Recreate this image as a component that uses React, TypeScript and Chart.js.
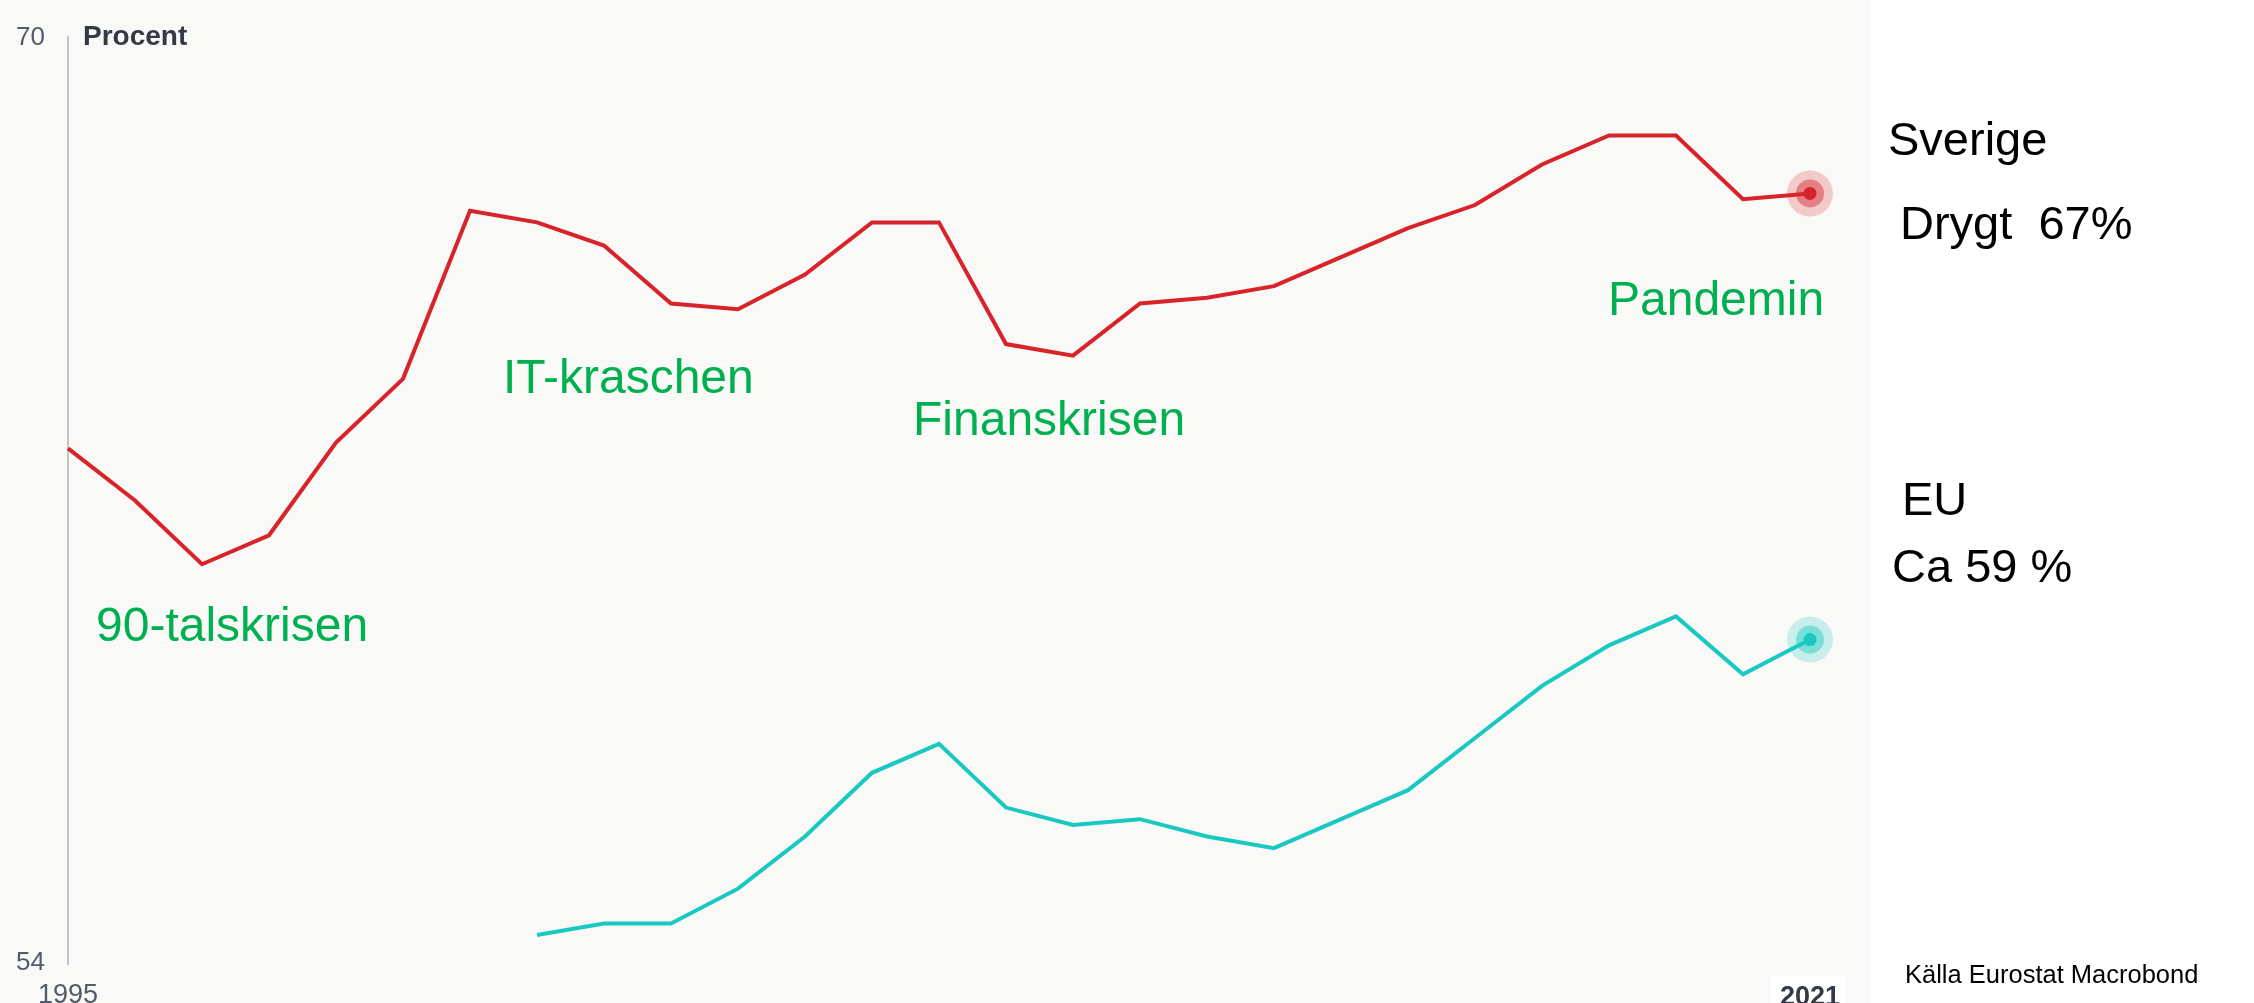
import React, { useEffect, useRef } from "react";
import { Chart, registerables } from "chart.js";

Chart.register(...registerables);

const years: string[] = [
  "1995", "1996", "1997", "1998", "1999", "2000", "2001", "2002", "2003",
  "2004", "2005", "2006", "2007", "2008", "2009", "2010", "2011", "2012",
  "2013", "2014", "2015", "2016", "2017", "2018", "2019", "2020", "2021",
];

const sverige: number[] = [
  62.9, 62.0, 60.9, 61.4, 63.0, 64.1, 67.0, 66.8, 66.4, 65.4, 65.3, 65.9,
  66.8, 66.8, 64.7, 64.5, 65.4, 65.5, 65.7, 66.2, 66.7, 67.1, 67.8, 68.3,
  68.3, 67.2, 67.3,
];

const eu: (number | null)[] = [
  null, null, null, null, null, null, null, 54.5, 54.7, 54.7, 55.3, 56.2,
  57.3, 57.8, 56.7, 56.4, 56.5, 56.2, 56.0, 56.5, 57.0, 57.9, 58.8, 59.5,
  60.0, 59.0, 59.6,
];

const yTickLabels: string[] = ["70", "54"];
const xTickLabels: string[] = ["1995", "2021"];
const yMax = 70;
const yMin = 54;

const RED = "#d8232a";
const CYAN = "#19c9c1";
const GREEN = "#00b050";
const FONT = "'Liberation Sans', Arial, sans-serif";

const decorPlugin = {
  id: "decor",
  beforeDraw(chart: any) {
    const { ctx, width, height } = chart;
    ctx.save();
    ctx.fillStyle = "#ffffff";
    ctx.fillRect(0, 0, width, height);
    ctx.fillStyle = "#f9f9f7";
    ctx.fillRect(0, 0, 1870, height);
    ctx.fillStyle = "#ffffff";
    ctx.fillRect(1771, 976, 76, height - 976);
    ctx.restore();
  },
  afterDatasetsDraw(chart: any) {
    const { ctx } = chart;
    const cols = [
      [216, 35, 42],
      [25, 201, 193],
    ];
    chart.data.datasets.forEach((ds: any, i: number) => {
      const meta = chart.getDatasetMeta(i);
      const pt = meta.data[meta.data.length - 1];
      if (!pt) return;
      const [r, g, b] = cols[i];
      ctx.save();
      ctx.fillStyle = `rgba(${r},${g},${b},0.22)`;
      ctx.beginPath();
      ctx.arc(pt.x, pt.y, 23, 0, Math.PI * 2);
      ctx.fill();
      ctx.fillStyle = `rgba(${r},${g},${b},0.45)`;
      ctx.beginPath();
      ctx.arc(pt.x, pt.y, 14, 0, Math.PI * 2);
      ctx.fill();
      ctx.fillStyle = `rgb(${r},${g},${b})`;
      ctx.beginPath();
      ctx.arc(pt.x, pt.y, 6.5, 0, Math.PI * 2);
      ctx.fill();
      ctx.restore();
    });
  },
  afterDraw(chart: any) {
    const { ctx, scales } = chart;
    const y = scales.y;
    const x = scales.x;
    ctx.save();
    // y tick labels
    ctx.textBaseline = "middle";
    ctx.textAlign = "left";
    ctx.fillStyle = "#525b68";
    ctx.font = `26px ${FONT}`;
    ctx.fillText(yTickLabels[0], 16, y.getPixelForValue(yMax) + 1);
    ctx.fillText(yTickLabels[1], 16, y.getPixelForValue(yMin) - 1);
    ctx.fillStyle = "#333a45";
    ctx.font = `bold 28px ${FONT}`;
    ctx.fillText("Procent", 83, y.getPixelForValue(yMax));
    // x tick labels
    ctx.textAlign = "center";
    ctx.fillStyle = "#525b68";
    ctx.font = `27px ${FONT}`;
    ctx.fillText(xTickLabels[0], x.getPixelForValue(0), 996);
    ctx.fillStyle = "#333a45";
    ctx.font = `bold 27px ${FONT}`;
    ctx.fillText(xTickLabels[1], x.getPixelForValue(years.length - 1), 998);

    // annotations
    ctx.textBaseline = "alphabetic";
    ctx.textAlign = "left";
    ctx.font = `48px ${FONT}`;
    ctx.fillStyle = GREEN;
    ctx.fillText("90-talskrisen", 96, 641);
    ctx.fillText("IT-kraschen", 503, 393);
    ctx.fillText("Finanskrisen", 913, 435);
    ctx.fillText("Pandemin", 1608, 315);

    ctx.font = `47px ${FONT}`;
    ctx.fillStyle = "#000000";
    ctx.fillText("Sverige", 1888, 155);
    ctx.fillText("Drygt  67%", 1900, 239);
    ctx.fillText("EU", 1902, 515);
    ctx.fillText("Ca 59 %", 1892, 582);

    ctx.font = `25.5px ${FONT}`;
    ctx.fillText("Källa Eurostat Macrobond", 1905, 983);
    ctx.restore();
  },
};

export default function App() {
  const canvasRef = useRef<HTMLCanvasElement | null>(null);

  useEffect(() => {
    if (!canvasRef.current) return;
    const chart = new Chart(canvasRef.current, {
      type: "line",
      data: {
        labels: years,
        datasets: [
          {
            label: "Sverige",
            data: sverige,
            borderColor: RED,
            borderWidth: 4,
            pointRadius: 0,
            tension: 0,
            fill: false,
          },
          {
            label: "EU",
            data: eu,
            borderColor: CYAN,
            borderWidth: 4,
            pointRadius: 0,
            tension: 0,
            fill: false,
            spanGaps: false,
          },
        ],
      },
      options: {
        responsive: false,
        animation: false,
        devicePixelRatio: 1,
        layout: { padding: { left: 68, right: 444, top: 37, bottom: 39 } },
        plugins: {
          legend: { display: false },
          tooltip: { enabled: false },
          title: { display: false },
        },
        scales: {
          x: {
            type: "category",
            offset: false,
            display: false,
          },
          y: {
            min: yMin,
            max: yMax,
            display: true,
            ticks: { display: false },
            grid: { display: false, drawTicks: false },
            border: { display: true, color: "#c4c4c4", width: 2 },
          },
        },
      },
      plugins: [decorPlugin],
    });
    return () => chart.destroy();
  }, []);

  return (
    <div style={{ position: "fixed", left: 0, top: 0, width: 2254, height: 1003 }}>
      <canvas ref={canvasRef} width={2254} height={1003} />
    </div>
  );
}
